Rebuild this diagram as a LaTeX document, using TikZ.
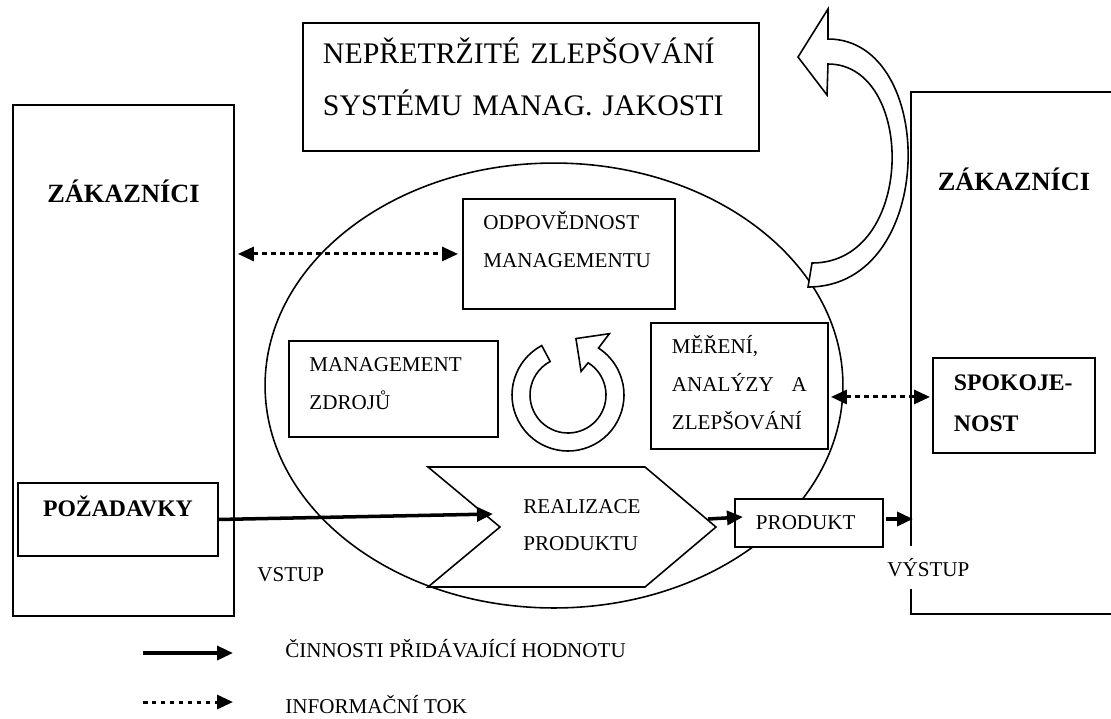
\documentclass[tikz,border=0pt]{standalone}
\usepackage{fontspec}
\setmainfont{Liberation Serif}
\usetikzlibrary{arrows.meta}
\newcommand{\bigfont}{\fontsize{17}{29.6}\selectfont}
\newcommand{\boldfont}{\bfseries\fontsize{13.5}{23.3}\selectfont}

\begin{document}
\begin{tikzpicture}[x=0.02cm, y=-0.02cm,
  every node/.style={font=\fontsize{12}{21.5}\selectfont},
  box/.style={draw, line width=1.1pt, fill=white, anchor=north west,
    inner ysep=0pt, inner xsep=0.41cm, align=left},
  txt/.style={anchor=base west, inner sep=0pt},
  outl/.style={draw, line width=0.9pt, fill=white},
  >={Triangle[length=0.32cm,width=0.28cm]},
  act/.style={line width=2pt},
  info/.style={line width=1.7pt, dash pattern=on 0.09cm off 0.09cm}]
  \useasboundingbox (0,0) rectangle (1111,718);
  % customers on both sides
  \node[box, align=center, inner xsep=0.4cm, text width=3.62cm, text height=1.96cm,
    text depth=8.26cm, font=\bfseries\fontsize{15}{18}\selectfont] (zakL) at (12,104) {ZÁKAZNÍCI};
  \node[box, align=center, inner xsep=0.4cm, text width=3.32cm, text height=1.98cm,
    text depth=8.46cm, font=\bfseries\fontsize{15}{18}\selectfont] (zakR) at (910,91) {ZÁKAZNÍCI};
  % the system
  \draw[line width=0.9pt] (554,385.5) ellipse [x radius=5.78cm, y radius=4.45cm];
  \node[box, inner xsep=0.4cm, text width=8.32cm, text height=0.82cm, text depth=1.74cm,
    font=\bigfont] (kzi) at (302,22) {NEPŘETRŽITÉ ZLEPŠOVÁNÍ\\SYSTÉMU MANAG. JAKOSTI};
  \draw[outl] (828,39) .. controls (938,39) and (938,287) .. (808,287) -- (812,263)
    .. controls (916,263) and (916,64) .. (828,64) -- (827,95) -- (798,57) -- (828,9) -- cycle;
  \node[box, text width=3.42cm, text height=0.62cm, text depth=1.58cm] (odp) at (462,198)
    {ODPOVĚDNOST\\MANAGEMENTU};
  \node[box, text width=3.36cm, text height=0.62cm, text depth=1.3cm] (zdr) at (288,340)
    {MANAGEMENT\\ZDROJŮ};
  \node[box, inner xsep=0.42cm, text width=2.7cm, text height=0.62cm, text depth=1.9cm] (mer) at (650,322)
    {MĚŘENÍ,\\ANALÝZY\hfill A\\ZLEPŠOVÁNÍ};
  \node[box, inner xsep=0.42cm, text width=2.4cm, text height=0.66cm, text depth=1.24cm,
    font=\boldfont] (spk) at (932,357) {SPOKOJE-\\NOST};
  % cycle arrow
  \begin{scope}[shift={(568,395)}]
    \draw[outl] (118:1.12cm) arc[start angle=118, end angle=417, radius=1.12cm]
      -- (416:1.48cm) -- (442:1.14cm) -- (421:0.54cm) -- (418:0.76cm)
      arc[start angle=418, end angle=118, radius=0.76cm] -- cycle;
  \end{scope}
  % input, realisation, output
  \node[box, align=center, inner xsep=0.4cm, text width=3.2cm, text height=0.68cm,
    text depth=0.78cm, font=\boldfont] (poz) at (17,482) {POŽADAVKY};
  \draw[outl] (428,467) -- (645,467) -- (716,527) -- (645,587) -- (428,587) -- (500,527) -- cycle;
  \node[txt, text width=3cm, align=left] (real) at (523,513) {REALIZACE\\PRODUKTU};
  \node[box, inner xsep=0.42cm, text width=2.12cm, text height=0.62cm, text depth=0.34cm] (prod) at (734,498)
    {PRODUKT};
  \coordinate (rin) at (493,514);
  \coordinate (rout) at (708,519);
  \draw[act,->] (poz.east) -- (rin);
  \draw[act,->] (rout) -- ([xshift=0.18cm,yshift=0.12cm]prod.west);
  \draw[act,->] ([xshift=0.04cm,yshift=0.08cm]prod.east) -- ([xshift=0.06cm,yshift=0.08cm]prod.east -| zakR.west);
  % information flow
  \draw[info,<->] ([xshift=0.06cm]zakL.east |- odp.west) -- ([xshift=-0.08cm]odp.west);
  \coordinate (mz) at ([yshift=-0.22cm]mer.east);
  \draw[info,<->, shorten <=0.04cm, shorten >=0.04cm] (mz) -- (mz -| spk.west);
  \node[txt] (vst) at (257,581) {VSTUP};
  \node[txt, fill=white, inner xsep=0.04cm, text height=0.6cm, text depth=0.26cm] (vys) at (885,576) {VÝSTUP};
  % legend
  \coordinate (l1s) at (143,653);
  \coordinate (l1e) at (233,653);
  \coordinate (l2s) at (143,702);
  \coordinate (l2e) at (233,702);
  \draw[act,->] (l1s) -- (l1e);
  \draw[info,->] (l2s) -- (l2e);
  \node[txt] (leg1) at (285,657) {ČINNOSTI PŘIDÁVAJÍCÍ HODNOTU};
  \node[txt] (leg2) at (285,713) {INFORMAČNÍ TOK};
\end{tikzpicture}
\end{document}
